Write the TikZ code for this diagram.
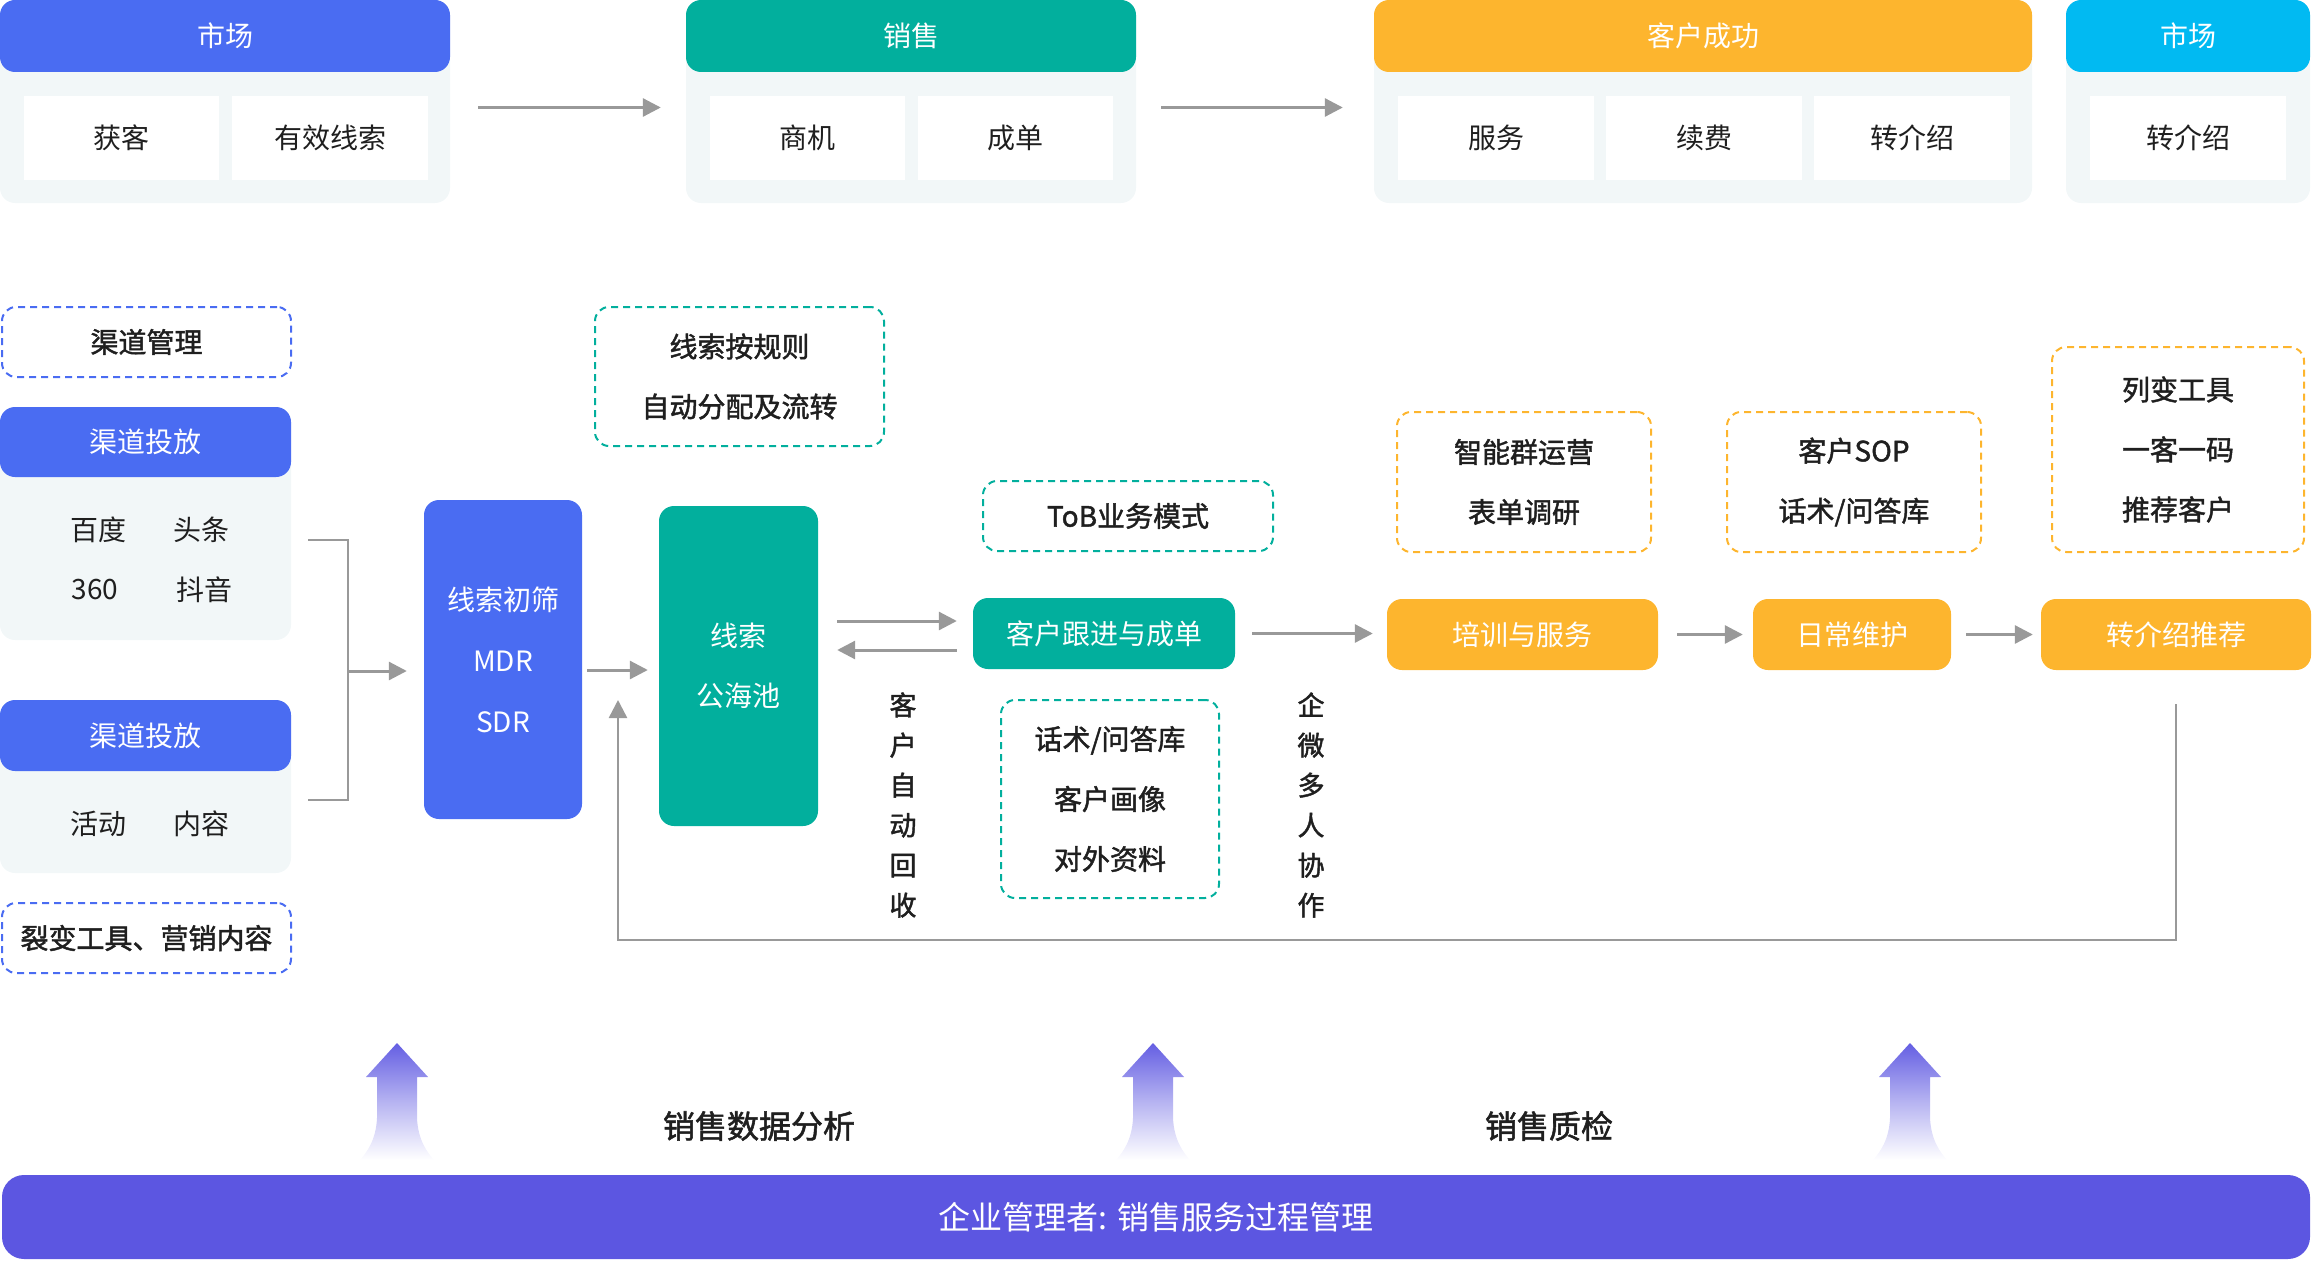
\documentclass[tikz,border=0pt]{standalone}
\usepackage{fontspec}
\setmainfont{Noto Sans CJK SC}
\newfontfamily\medfont[FakeBold=1.6]{Noto Sans CJK SC}
\usetikzlibrary{arrows.meta}
\definecolor{cblue}{HTML}{4A6CF2}
\definecolor{cteal}{HTML}{02AF9D}
\definecolor{corange}{HTML}{FDB52E}
\definecolor{ccyan}{HTML}{01BAF2}
\definecolor{cpurple}{HTML}{5C56E1}
\definecolor{cbg}{HTML}{F2F7F8}
\definecolor{cgray}{HTML}{999999}
\definecolor{ctext}{HTML}{1F1F1F}
\tikzset{
  base/.style={font=\fontsize{28pt}{34pt}\selectfont, inner sep=0pt, align=center},
  hdr/.style={base, rounded corners=15pt, text=white},
  bgpanel/.style={fill=cbg, rounded corners=15pt, inner sep=0pt},
  cell/.style={base, fill=white, text=ctext},
  plain/.style={base, text=ctext},
  dbox/.style={base, draw, dash pattern=on 7pt off 5pt, line width=2pt, rounded corners=14pt, text=ctext, font=\medfont\fontsize{28pt}{60pt}\selectfont},
  boxw/.style={base, rounded corners=15pt, text=white},
  arr/.style={draw=cgray, line width=3pt, -{Triangle[length=18pt,width=18pt]}},
  gline/.style={draw=cgray, line width=2.5pt},
  vtext/.style={base, text=ctext, font=\medfont\fontsize{27pt}{40pt}\selectfont},
  blabel/.style={base, text=ctext, font=\medfont\fontsize{32pt}{38pt}\selectfont}
}
\begin{document}
\begin{tikzpicture}[x=1pt,y=-1pt]
\useasboundingbox (0,0) rectangle (2314,1260);
% ---------- top row ----------
\node[bgpanel, minimum width=450pt, minimum height=203pt] (m1bg) at (225,101.5) {};
\node[hdr, fill=cblue, minimum width=450pt, minimum height=72pt] (m1h) at (225,36) {市场};
\node[cell, minimum width=195pt, minimum height=84pt] (m1a) at (121.5,138) {获客};
\node[cell, minimum width=196pt, minimum height=84pt] (m1b) at (330,138) {有效线索};

\node[bgpanel, minimum width=450pt, minimum height=203pt] (s1bg) at (911,101.5) {};
\node[hdr, fill=cteal, minimum width=450pt, minimum height=72pt] (s1h) at (911,36) {销售};
\node[cell, minimum width=195pt, minimum height=84pt] (s1a) at (807.5,138) {商机};
\node[cell, minimum width=195pt, minimum height=84pt] (s1b) at (1015.5,138) {成单};

\node[bgpanel, minimum width=658pt, minimum height=203pt] (c1bg) at (1703,101.5) {};
\node[hdr, fill=corange, minimum width=658pt, minimum height=72pt] (c1h) at (1703,36) {客户成功};
\node[cell, minimum width=196pt, minimum height=84pt] (c1a) at (1496,138) {服务};
\node[cell, minimum width=196pt, minimum height=84pt] (c1b) at (1704,138) {续费};
\node[cell, minimum width=196pt, minimum height=84pt] (c1c) at (1912,138) {转介绍};

\node[bgpanel, minimum width=244pt, minimum height=203pt] (m2bg) at (2188,101.5) {};
\node[hdr, fill=ccyan, minimum width=244pt, minimum height=72pt] (m2h) at (2188,36) {市场};
\node[cell, minimum width=196pt, minimum height=84pt] (m2a) at (2188,138) {转介绍};

\draw[arr, shorten <=28pt, shorten >=25pt] ([yshift=-6pt]m1bg.east) -- ([yshift=-6pt]s1bg.west);
\draw[arr, shorten <=25pt, shorten >=31pt] ([yshift=-6pt]s1bg.east) -- ([yshift=-6pt]c1bg.west);

% ---------- left column ----------
\node[dbox, draw=cblue, minimum width=289pt, minimum height=70pt] (chm) at (146.5,342) {渠道管理};
\node[bgpanel, minimum width=291pt, minimum height=233pt] (ch1bg) at (145.5,523.5) {};
\node[hdr, fill=cblue, minimum width=291pt, minimum height=70pt] (ch1h) at (145.5,442) {渠道投放};
\node[plain] (bd) at (98,530) {百度};
\node[plain] (tt) at (201,530) {头条};
\node[plain] (s360) at (95,590) {360};
\node[plain] (dy) at (204,590) {抖音};
\node[bgpanel, minimum width=291pt, minimum height=173pt] (ch2bg) at (145.5,786.5) {};
\node[hdr, fill=cblue, minimum width=291pt, minimum height=71pt] (ch2h) at (145.5,735.5) {渠道投放};
\node[plain] (hd) at (98,824) {活动};
\node[plain] (nr) at (201,824) {内容};
\node[dbox, draw=cblue, minimum width=289pt, minimum height=70pt] (lbx) at (146.5,938) {裂变工具、营销内容};

\coordinate (br1) at (308,540);
\coordinate (br2) at (348,540);
\coordinate (br3) at (348,800);
\coordinate (br4) at (308,800);
\coordinate (brm) at (348,671);
\draw[gline] (br1) -- (br2) -- (br3) -- (br4);

% ---------- middle ----------
\node[boxw, fill=cblue, minimum width=158pt, minimum height=319pt, font=\fontsize{28pt}{61pt}\selectfont] (mdr) at (503,659.5) {线索初筛\\MDR\\SDR};
\node[boxw, fill=cteal, minimum width=159pt, minimum height=320pt, font=\fontsize{28pt}{60pt}\selectfont] (pool) at (738.5,666) {线索\\公海池};
\draw[arr, shorten >=17pt] (brm) -- (brm -| mdr.west);
\draw[arr, shorten <=5pt, shorten >=11pt] ([yshift=-10.5pt]mdr.east) -- ([yshift=-10.5pt]mdr.east -| pool.west);

\node[dbox, draw=cteal, minimum width=289pt, minimum height=139pt] (rule) at (739.5,376.5) {线索按规则\\自动分配及流转};
\node[dbox, draw=cteal, minimum width=290pt, minimum height=70pt] (tob) at (1128,516) {ToB业务模式};
\node[boxw, fill=cteal, minimum width=262pt, minimum height=71pt] (follow) at (1104,633.5) {客户跟进与成单};
\draw[arr, shorten <=19pt, shorten >=16pt] ([yshift=45pt]pool.east) -- ([yshift=45pt]pool.east -| follow.west);
\draw[arr, shorten <=16pt, shorten >=19pt] ([yshift=16pt]pool.east -| follow.west) -- ([yshift=16pt]pool.east);

\node[vtext] (vt1) at (903,805) {客\\户\\自\\动\\回\\收};
\node[vtext] (vt2) at (1311,805) {企\\微\\多\\人\\协\\作};
\node[dbox, draw=cteal, minimum width=218pt, minimum height=198pt] (kb) at (1110,799) {话术/问答库\\客户画像\\对外资料};

% ---------- right ----------
\node[boxw, fill=corange, minimum width=271pt, minimum height=71pt] (train) at (1522.5,634.5) {培训与服务};
\node[boxw, fill=corange, minimum width=198pt, minimum height=71pt] (daily) at (1852,634.5) {日常维护};
\node[boxw, fill=corange, minimum width=270pt, minimum height=71pt] (zrec) at (2176,634.5) {转介绍推荐};
\draw[arr, shorten <=17pt, shorten >=14pt] (follow.east) -- (follow.east -| train.west);
\draw[arr, shorten <=19pt, shorten >=10pt] (train.east) -- (daily.west);
\draw[arr, shorten <=15pt, shorten >=8pt] (daily.east) -- (zrec.west);

\node[dbox, draw=corange, minimum width=254pt, minimum height=140pt] (ob1) at (1524,482) {智能群运营\\表单调研};
\node[dbox, draw=corange, minimum width=254pt, minimum height=140pt] (ob2) at (1854,482) {客户SOP\\话术/问答库};
\node[dbox, draw=corange, minimum width=252pt, minimum height=205pt] (ob3) at (2178,449.5) {列变工具\\一客一码\\推荐客户};

\coordinate (fb1) at (2176,940);
\coordinate (fb2) at (618,940);
\coordinate (fb3) at (618,700);
\draw[arr, line width=2.5pt, shorten <=34pt] (zrec.south) -- (fb1) -- (fb2) -- (fb3);

% ---------- bottom ----------
\foreach \cx in {397,1153,1910}{
  \shade[top color=cpurple!95, bottom color=white, middle color=cpurple!45]
    (\cx,1043) -- (\cx+31,1077) -- (\cx+20,1077) -- (\cx+20,1118)
    .. controls (\cx+21,1140) and (\cx+30,1152) .. (\cx+37,1160)
    -- (\cx-37,1160)
    .. controls (\cx-30,1152) and (\cx-21,1140) .. (\cx-20,1118)
    -- (\cx-20,1077) -- (\cx-31,1077) -- cycle;
}
\node[blabel] (sa) at (759,1126) {销售数据分析};
\node[blabel] (sq) at (1549,1126) {销售质检};
\node[base, fill=cpurple, rounded corners=22pt, minimum width=2308pt, minimum height=84pt, text=white, font=\fontsize{32pt}{38pt}\selectfont] (bar) at (1156,1217) {企业管理者: 销售服务过程管理};
\end{tikzpicture}
\end{document}
